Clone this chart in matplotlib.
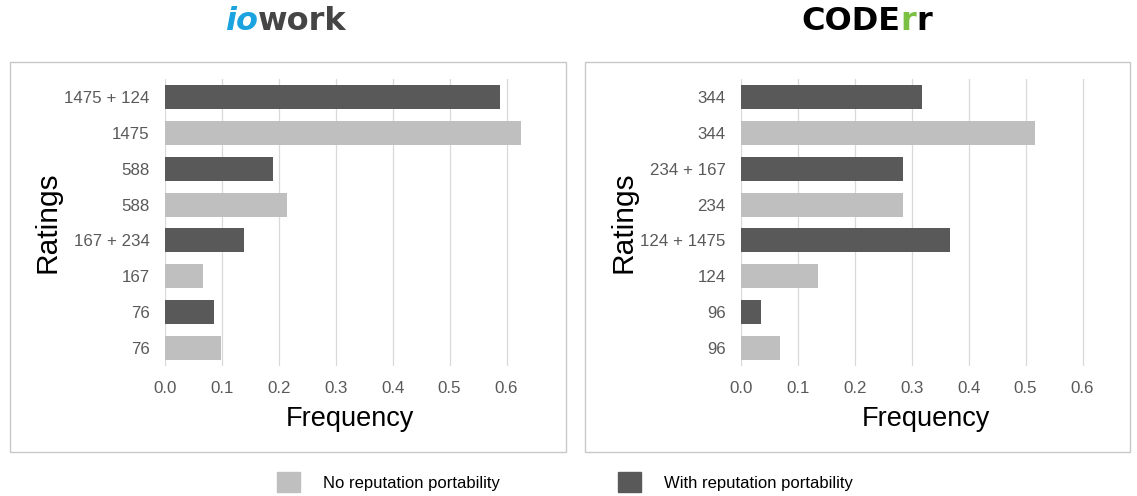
"""
Rating frequency with / without reputation portability, iowork vs CODErr.
"""

import numpy as np
import matplotlib
matplotlib.use("Agg")
import matplotlib.pyplot as plt
from matplotlib.patches import Rectangle, Patch

plt.rcParams['font.family'] = ['Liberation Sans', 'DejaVu Sans']

# data, listed top to bottom
iowork_labels = ['1475 + 124', '1475', '588', '588', '167 + 234', '167', '76', '76']
iowork_values = [0.588, 0.625, 0.190, 0.214, 0.139, 0.067, 0.086, 0.098]
iowork_portable = [True, False, True, False, True, False, True, False]

coderr_labels = ['344', '344', '234 + 167', '234', '124 + 1475', '124', '96', '96']
coderr_values = [0.318, 0.517, 0.285, 0.285, 0.367, 0.135, 0.036, 0.069]
coderr_portable = [True, False, True, False, True, False, True, False]

xticks = [0.0, 0.1, 0.2, 0.3, 0.4, 0.5, 0.6]

DARK = '#595959'
LIGHT = '#bfbfbf'
W, H = 1137, 496

fig = plt.figure(figsize=(W / 100, H / 100), dpi=100)

# panel frames
for x0, x1 in [(10, 566), (585, 1130)]:
    fig.patches.append(Rectangle((x0 / W, 1 - 452 / H), (x1 - x0) / W, 390 / H,
                                 transform=fig.transFigure, fill=False,
                                 edgecolor='#c8c8c8', linewidth=1.0))


def panel(left_px, labels, values, portable):
    ax = fig.add_axes([left_px / W, 1 - 366 / H, 370 / W, 287 / H])
    y = np.arange(len(labels))
    colors = [DARK if p else LIGHT for p in portable]
    ax.barh(y, values, height=0.67, color=colors, zorder=3)
    ax.set_xlim(0, 0.65)
    ax.set_ylim(len(labels) - 0.5, -0.5)
    ax.set_yticks(y)
    ax.set_yticklabels(labels)
    ax.set_xticks(xticks)
    ax.set_xticklabels([f'{t:.1f}' for t in xticks])
    ax.tick_params(length=0, labelsize=12.2, labelcolor=DARK)
    ax.tick_params(axis='y', pad=11)
    ax.tick_params(axis='x', pad=11)
    for s in ax.spines.values():
        s.set_visible(False)
    ax.grid(axis='x', color='#d9d9d9', linewidth=0.9, zorder=0)
    ax.set_axisbelow(True)
    ax.set_xlabel('Frequency', fontsize=19.5, labelpad=7)
    ax.set_ylabel('Ratings', fontsize=21.5, labelpad=2)
    return ax


panel(165, iowork_labels, iowork_values, iowork_portable)
panel(741, coderr_labels, coderr_values, coderr_portable)


def logo(parts, cx_px, cy_px, size):
    r = fig.canvas.get_renderer()
    texts = []
    for s, c, style in parts:
        t = fig.text(0, 1 - cy_px / H, s, color=c, fontsize=size, fontweight='bold',
                     fontstyle=style, family='DejaVu Sans', va='center', ha='left')
        texts.append(t)
    widths = [t.get_window_extent(r).width for t in texts]
    x = cx_px - sum(widths) / 2
    for t, w in zip(texts, widths):
        t.set_x(x / W)
        x += w


logo([('io', '#1aa3df', 'italic'), ('work', '#454545', 'normal')], 286, 21, 23)
logo([('CODE', '#000000', 'normal'), ('r', '#7ac143', 'normal'), ('r', '#000000', 'normal')],
     867, 21, 23)

handles = [Patch(color=LIGHT, label='No reputation portability'),
           Patch(color=DARK, label='With reputation portability')]
fig.legend(handles=handles, loc='center', bbox_to_anchor=(565 / W, 1 - 482 / H), ncol=2,
           frameon=False, fontsize=12, handlelength=1.4, handleheight=1.4,
           handletextpad=1.4, columnspacing=7.05)

fig.savefig('out.png', dpi=100)
